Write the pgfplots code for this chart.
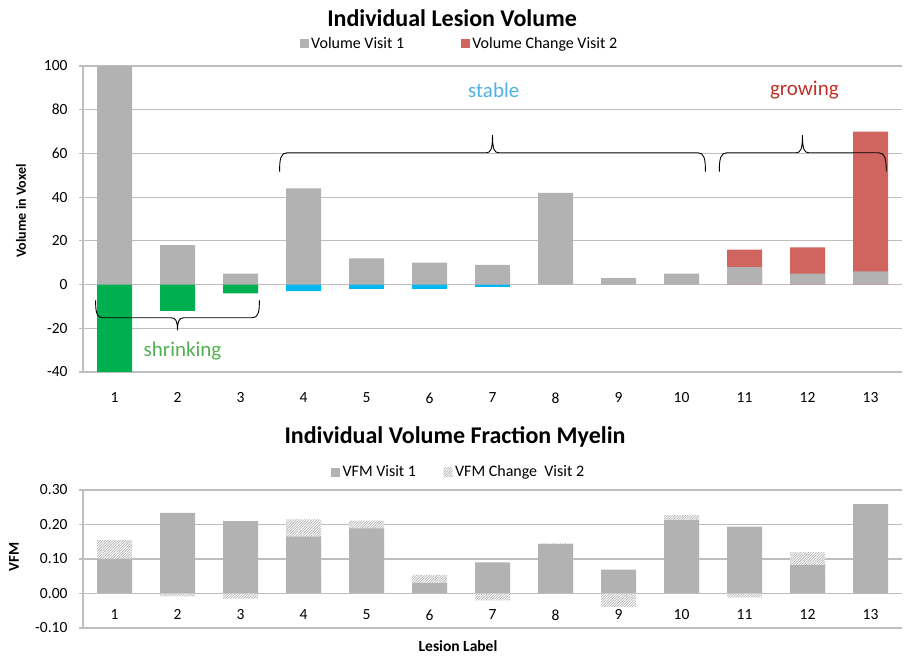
\documentclass[border=0pt]{standalone}
\usepackage{fontspec}
\setmainfont{Carlito}
\usepackage{pgfplots}
\pgfplotsset{compat=1.18}
\usetikzlibrary{patterns.meta}

\definecolor{barGray}{RGB}{178,178,178}
\definecolor{barGreen}{RGB}{0,176,80}
\definecolor{barCyan}{RGB}{0,183,240}
\definecolor{barRed}{RGB}{208,100,94}
\definecolor{gridGray}{RGB}{190,190,190}
\definecolor{txtStable}{RGB}{80,178,228}
\definecolor{txtGrow}{RGB}{192,50,40}
\definecolor{txtShrink}{RGB}{80,176,80}
\definecolor{hatchGray}{RGB}{165,165,165}

\pgfplotsset{
  mybar/.style={ybar, bar width=35pt, draw=none,
    legend image code/.code={\fill[##1] (0pt,-4.5pt) rectangle (9pt,4.5pt);}},
  hatchbar/.style={mybar, fill=white, pattern color=hatchGray,
    postaction={pattern={Lines[angle=45,distance=1.8pt,line width=0.55pt]}, pattern color=hatchGray}},
  common/.style={scale only axis, width=819pt, xmin=0.5, xmax=13.5, xtick={1,...,13},
    axis x line*=bottom, axis y line*=left,
    axis line style={gridGray, line width=1.2pt},
    ymajorgrids, grid style={gridGray, line width=1.2pt},
    xtick style={draw=none}, ytick style={gridGray, line width=1.2pt},
    tick align=outside, major tick length=4pt,
    /pgf/number format/assume math mode=true,
    tick label style={font=\fontsize{15.5}{18}\selectfont},
    yticklabel style={xshift=-8pt},
    legend style={draw=none, fill=none, font=\fontsize{16}{19}\selectfont,
      legend columns=2, anchor=center, inner sep=0pt,
      nodes={inner xsep=2.5pt, inner ysep=1pt}},
    legend cell align=left, clip=false}
}

\begin{document}
\begin{tikzpicture}
\path[use as bounding box] (0pt,0pt) rectangle (909pt,656pt);

% ---------- top chart ----------
\begin{axis}[common, at={(83pt,284pt)}, anchor=south west, height=306pt,
  ymin=-40, ymax=100, ytick={-40,-20,...,100},
  legend style={at={(0.46,1.072)}, /tikz/every even column/.append style={column sep=54pt}},
  xticklabel style={yshift=-13pt}]
\addplot[mybar, fill=barRed, forget plot] coordinates {(11,16) (12,17) (13,70)};
\addplot[mybar, fill=barGray] coordinates {(1,100) (2,18) (3,5) (4,44) (5,12) (6,10) (7,9) (8,42) (9,3) (10,5) (11,8) (12,5) (13,6)};
\addlegendentry{Volume Visit 1}
\addlegendimage{mybar, fill=barRed}
\addlegendentry{Volume Change Visit 2}
\addplot[mybar, fill=barGreen, forget plot] coordinates {(1,-40) (2,-12) (3,-4)};
\addplot[mybar, fill=barCyan, forget plot] coordinates {(4,-3) (5,-2) (6,-2) (7,-1)};

% braces
\draw[line width=0.9pt] (axis cs:0.70,-7.2) .. controls (axis cs:0.70,-13) and (axis cs:0.72,-15.2) .. (axis cs:0.82,-15.2)
  -- (axis cs:1.90,-15.2) .. controls (axis cs:1.97,-15.2) and (axis cs:2,-16.5) .. (axis cs:2,-20.9)
  .. controls (axis cs:2,-16.5) and (axis cs:2.03,-15.2) .. (axis cs:2.10,-15.2)
  -- (axis cs:3.18,-15.2) .. controls (axis cs:3.28,-15.2) and (axis cs:3.30,-13) .. (axis cs:3.30,-7.2);
\draw[line width=0.9pt] (axis cs:3.62,51.7) .. controls (axis cs:3.62,57.5) and (axis cs:3.64,60.3) .. (axis cs:3.74,60.3)
  -- (axis cs:6.90,60.3) .. controls (axis cs:6.97,60.3) and (axis cs:7,61.8) .. (axis cs:7,68.5)
  .. controls (axis cs:7,61.8) and (axis cs:7.03,60.3) .. (axis cs:7.10,60.3)
  -- (axis cs:10.26,60.3) .. controls (axis cs:10.36,60.3) and (axis cs:10.38,57.5) .. (axis cs:10.38,51.7);
\draw[line width=0.9pt] (axis cs:10.60,51.7) .. controls (axis cs:10.60,57.5) and (axis cs:10.62,60.3) .. (axis cs:10.72,60.3)
  -- (axis cs:11.82,60.3) .. controls (axis cs:11.89,60.3) and (axis cs:11.92,61.8) .. (axis cs:11.92,68.5)
  .. controls (axis cs:11.92,61.8) and (axis cs:11.95,60.3) .. (axis cs:12.02,60.3)
  -- (axis cs:13.13,60.3) .. controls (axis cs:13.23,60.3) and (axis cs:13.25,57.5) .. (axis cs:13.25,51.7);
\node[text=txtStable, font=\fontsize{21}{24}\selectfont] at (axis cs:7.02,89) {stable};
\node[text=txtGrow, font=\fontsize{21}{24}\selectfont] at (axis cs:11.95,89) {growing};
\node[text=txtShrink, font=\fontsize{21}{24}\selectfont] at (axis cs:2.08,-30.6) {shrinking};
\end{axis}

% ---------- bottom chart ----------
\begin{axis}[common, at={(83pt,28pt)}, anchor=south west, height=138pt,
  ymin=-0.1, ymax=0.3, ytick={-0.1,0,0.1,0.2,0.3},
  yticklabel style={/pgf/number format/.cd, fixed, fixed zerofill, precision=2},
  legend style={at={(0.459,1.13)}, /tikz/every even column/.append style={column sep=25pt}},
  xticklabel style={yshift=26pt}]
\addplot[hatchbar, forget plot] coordinates {(1,0.155) (4,0.215) (5,0.211) (6,0.054) (8,0.145) (10,0.227) (12,0.120)};
\addplot[mybar, fill=barGray] coordinates {(1,0.101) (2,0.234) (3,0.210) (4,0.165) (5,0.189) (6,0.030) (7,0.090) (8,0.143) (9,0.069) (10,0.213) (11,0.194) (12,0.082) (13,0.259)};
\addlegendentry{VFM Visit 1}
\addplot[hatchbar] coordinates {(2,-0.008) (3,-0.015) (7,-0.020) (9,-0.039) (11,-0.011)};
\addlegendentry{VFM Change\ \ Visit 2}
\end{axis}

% titles and axis labels
\node[font=\fontsize{24}{29}\selectfont\bfseries] at (452pt,638pt) {Individual Lesion Volume};
\node[font=\fontsize{24}{29}\selectfont\bfseries] at (455pt,219pt) {Individual Volume Fraction Myelin};
\node[rotate=90, font=\fontsize{14}{17}\selectfont\bfseries] at (21pt,445pt) {Volume in Voxel};
\node[rotate=90, font=\fontsize{15}{18}\selectfont\bfseries] at (14pt,99pt) {VFM};
\node[font=\fontsize{15.5}{18}\selectfont\bfseries] at (458pt,10pt) {Lesion Label};
\end{tikzpicture}
\end{document}
